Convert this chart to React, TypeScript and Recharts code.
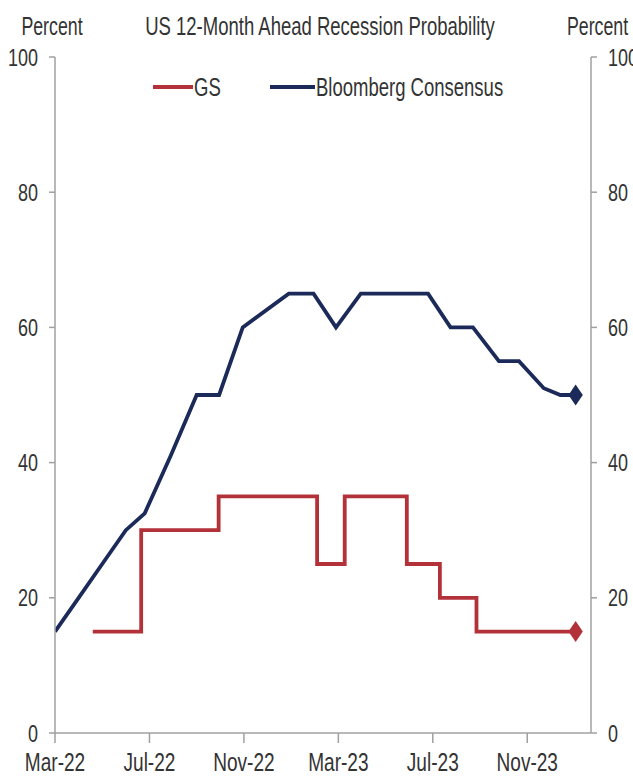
import React from 'react';
import { LineChart, Line, XAxis, YAxis } from 'recharts';

const FONT = '"Liberation Sans", Arial, sans-serif';
const TEXT = '#333333';
const AXIS = '#a0a0a0';
const BLUE = '#1b2a58';
const RED = '#b3323a';

// x values are months since Mar-22
const bbMonths = [0, 1, 2, 3, 3.8, 4.9, 6, 6.95, 7.95, 9.9, 10.95, 11.9, 12.95, 15.8, 16.75, 17.7, 18.8, 19.65, 20.7, 21.4, 22.05];
const bbValues = [15, 20, 25, 30, 32.5, 41, 50, 50, 60, 65, 65, 60, 65, 65, 60, 60, 55, 55, 51, 50, 50];

const gsMonths = [1.6, 3.65, 6.93, 11.1, 12.27, 14.9, 16.3, 17.85, 22.05];
const gsValues = [15, 30, 35, 25, 35, 25, 20, 15, 15];

const xTickMonths = [0, 4, 8, 12, 16, 20];
const xTickLabels = ['Mar-22', 'Jul-22', 'Nov-22', 'Mar-23', 'Jul-23', 'Nov-23'];
const yTicks = [0, 20, 40, 60, 80, 100];

const bbData = bbMonths.map((m, i) => ({ m, v: bbValues[i] }));
const gsData = gsMonths.map((m, i) => ({ m, v: gsValues[i] }));

const XTick = (props: any) => {
  const { x, y, payload } = props;
  const i = xTickMonths.indexOf(payload.value);
  return (
    <text
      transform={`translate(${x},${y + 28}) scale(0.72,1)`}
      textAnchor="middle"
      fontSize={26.5}
      fill={TEXT}
      fontFamily={FONT}
    >
      {xTickLabels[i]}
    </text>
  );
};

const YTick = (props: any) => {
  const { x, y, payload, side } = props;
  return (
    <text
      transform={`translate(${x},${y}) scale(0.75,1)`}
      textAnchor={side === 'left' ? 'end' : 'start'}
      dy="0.36em"
      fontSize={24}
      fill={TEXT}
      fontFamily={FONT}
    >
      {payload.value}
    </text>
  );
};

const makeDiamond = (color: string, n: number, r: number) => (props: any) => {
  const { cx, cy, index } = props;
  if (index !== n - 1) return <g key={`d${index}`} />;
  return (
    <path
      key={`d${index}`}
      d={`M${cx},${cy - r} L${cx + r * 0.68},${cy} L${cx},${cy + r} L${cx - r * 0.68},${cy} Z`}
      fill={color}
    />
  );
};

const textStyle = (size: number): React.CSSProperties => ({
  position: 'absolute',
  fontFamily: FONT,
  fontSize: size,
  color: TEXT,
  whiteSpace: 'nowrap',
  lineHeight: '28px',
  height: 28,
});

export default function App() {
  return (
    <div style={{ position: 'absolute', left: 0, top: 0, width: 633, height: 778, background: '#fff' }}>
      <LineChart width={633} height={778} margin={{ top: 57, right: 0, bottom: 0, left: 0 }}>
        <XAxis
          type="number"
          dataKey="m"
          domain={[0, 22.7]}
          ticks={xTickMonths}
          interval={0}
          allowDataOverflow
          height={45}
          tickSize={10}
          tickMargin={0}
          tick={(p: any) => <XTick {...p} />}
          tickLine={{ stroke: AXIS, strokeWidth: 1.5 }}
          axisLine={{ stroke: AXIS, strokeWidth: 1.5 }}
        />
        <YAxis
          yAxisId="left"
          orientation="left"
          type="number"
          domain={[0, 100]}
          ticks={yTicks}
          interval={0}
          width={55}
          tickSize={6}
          tickMargin={11}
          tick={(p: any) => <YTick {...p} side="left" />}
          tickLine={{ stroke: AXIS, strokeWidth: 1.5 }}
          axisLine={{ stroke: AXIS, strokeWidth: 1.5 }}
        />
        <YAxis
          yAxisId="right"
          orientation="right"
          type="number"
          domain={[0, 100]}
          ticks={yTicks}
          interval={0}
          width={42}
          tickSize={6}
          tickMargin={11}
          tick={(p: any) => <YTick {...p} side="right" />}
          tickLine={{ stroke: AXIS, strokeWidth: 1.5 }}
          axisLine={{ stroke: AXIS, strokeWidth: 1.5 }}
        />
        <Line
          yAxisId="right"
          data={gsData}
          dataKey="v"
          type="stepAfter"
          stroke={RED}
          strokeWidth={3.8}
          dot={makeDiamond(RED, gsData.length, 10.5)}
          activeDot={false}
          isAnimationActive={false}
        />
        <Line
          yAxisId="left"
          data={bbData}
          dataKey="v"
          type="linear"
          stroke={BLUE}
          strokeWidth={3.8}
          dot={makeDiamond(BLUE, bbData.length, 10.5)}
          activeDot={false}
          isAnimationActive={false}
        />
      </LineChart>

      {/* Axis unit labels and title */}
      <div style={{ ...textStyle(25), left: 52, top: 12, transform: 'translateX(-50%) scaleX(0.71)' }}>Percent</div>
      <div style={{ ...textStyle(25), left: 320, top: 12, transform: 'translateX(-50%) scaleX(0.74)' }}>
        US 12-Month Ahead Recession Probability
      </div>
      <div style={{ ...textStyle(25), left: 567, top: 12, transform: 'scaleX(0.71)', transformOrigin: 'left center' }}>Percent</div>

      {/* Legend */}
      <div style={{ position: 'absolute', left: 153, top: 85, width: 40, height: 4, background: RED }} />
      <div style={{ ...textStyle(25), left: 194, top: 73, transform: 'scaleX(0.74)', transformOrigin: 'left center' }}>GS</div>
      <div style={{ position: 'absolute', left: 270, top: 85, width: 45, height: 4, background: BLUE }} />
      <div style={{ ...textStyle(25), left: 316, top: 73, transform: 'scaleX(0.74)', transformOrigin: 'left center' }}>Bloomberg Consensus</div>
    </div>
  );
}
